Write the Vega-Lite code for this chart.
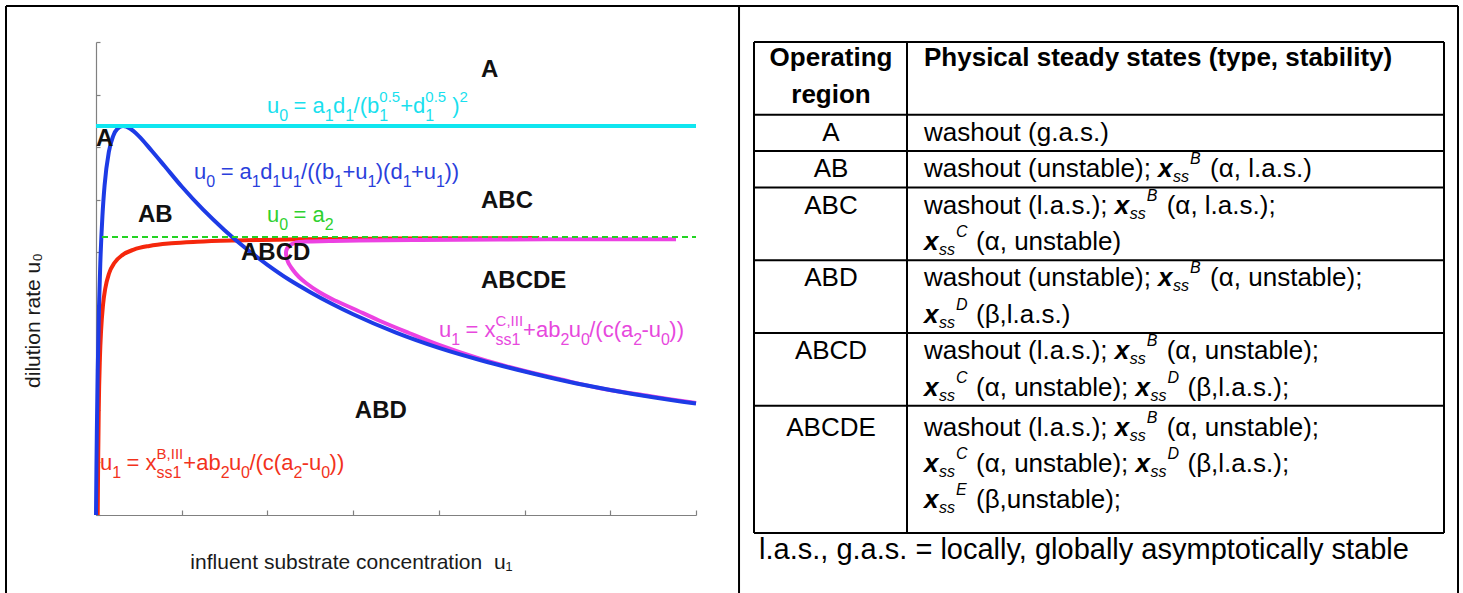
{
  "$schema": "https://vega.github.io/schema/vega-lite/v6.json",
  "background": "white",
  "padding": {"left": 5, "top": 4, "right": 0, "bottom": 0},
  "bounds": "flush",
  "spacing": 58,
  "config": {"view": {"stroke": null}, "font": "Liberation Sans"},
  "resolve": {"scale": {"x": "independent", "y": "independent"}},
  "datasets": {
    "curves": [
      {"s": "peak", "i": 0, "x": 0.0, "y": 7.4}, {"s": "peak", "i": 1, "x": 7.0, "y": 7.4},
      {"s": "a2", "i": 0, "x": 0.07, "y": 5.29}, {"s": "a2", "i": 1, "x": 7.0, "y": 5.29},
      {"s": "B", "i": 0, "x": 0, "y": 0}, {"s": "B", "i": 1, "x": 0.005, "y": 0.87}, {"s": "B", "i": 2, "x": 0.01, "y": 1.6},
      {"s": "B", "i": 3, "x": 0.02, "y": 2.74}, {"s": "B", "i": 4, "x": 0.035, "y": 3.95}, {"s": "B", "i": 5, "x": 0.05, "y": 4.78},
      {"s": "B", "i": 6, "x": 0.075, "y": 5.69}, {"s": "B", "i": 7, "x": 0.1, "y": 6.27}, {"s": "B", "i": 8, "x": 0.15, "y": 6.91},
      {"s": "B", "i": 9, "x": 0.2, "y": 7.21}, {"s": "B", "i": 10, "x": 0.25, "y": 7.35}, {"s": "B", "i": 11, "x": 0.315, "y": 7.4},
      {"s": "B", "i": 12, "x": 0.4, "y": 7.35}, {"s": "B", "i": 13, "x": 0.5, "y": 7.21}, {"s": "B", "i": 14, "x": 0.65, "y": 6.93},
      {"s": "B", "i": 15, "x": 0.8, "y": 6.64}, {"s": "B", "i": 16, "x": 1.0, "y": 6.25}, {"s": "B", "i": 17, "x": 1.25, "y": 5.81},
      {"s": "B", "i": 18, "x": 1.5, "y": 5.42}, {"s": "B", "i": 19, "x": 1.75, "y": 5.07}, {"s": "B", "i": 20, "x": 2.0, "y": 4.76},
      {"s": "B", "i": 21, "x": 2.25, "y": 4.48}, {"s": "B", "i": 22, "x": 2.5, "y": 4.24}, {"s": "B", "i": 23, "x": 2.75, "y": 4.02},
      {"s": "B", "i": 24, "x": 3.0, "y": 3.82}, {"s": "B", "i": 25, "x": 3.5, "y": 3.47}, {"s": "B", "i": 26, "x": 4.0, "y": 3.18},
      {"s": "B", "i": 27, "x": 4.5, "y": 2.94}, {"s": "B", "i": 28, "x": 5.0, "y": 2.73}, {"s": "B", "i": 29, "x": 5.5, "y": 2.54},
      {"s": "B", "i": 30, "x": 6.0, "y": 2.38}, {"s": "B", "i": 31, "x": 6.5, "y": 2.24}, {"s": "B", "i": 32, "x": 7.0, "y": 2.12},
      {"s": "xB", "i": 0, "x": 0.02, "y": 0}, {"s": "xB", "i": 1, "x": 0.025, "y": 1.0}, {"s": "xB", "i": 2, "x": 0.032, "y": 2.0},
      {"s": "xB", "i": 3, "x": 0.046, "y": 3.0}, {"s": "xB", "i": 4, "x": 0.059, "y": 3.5}, {"s": "xB", "i": 5, "x": 0.082, "y": 4.0},
      {"s": "xB", "i": 6, "x": 0.107, "y": 4.3}, {"s": "xB", "i": 7, "x": 0.153, "y": 4.6}, {"s": "xB", "i": 8, "x": 0.216, "y": 4.8},
      {"s": "xB", "i": 9, "x": 0.311, "y": 4.95}, {"s": "xB", "i": 10, "x": 0.441, "y": 5.05}, {"s": "xB", "i": 11, "x": 0.622, "y": 5.12},
      {"s": "xB", "i": 12, "x": 0.88, "y": 5.17}, {"s": "xB", "i": 13, "x": 1.18, "y": 5.2}, {"s": "xB", "i": 14, "x": 1.63, "y": 5.225},
      {"s": "xB", "i": 15, "x": 2.35, "y": 5.245}, {"s": "xB", "i": 16, "x": 3.53, "y": 5.26}, {"s": "xB", "i": 17, "x": 5.17, "y": 5.27},
      {"s": "xC", "i": 0, "x": 6.767, "y": 5.246}, {"s": "xC", "i": 1, "x": 5.868, "y": 5.248}, {"s": "xC", "i": 2, "x": 4.702, "y": 5.242},
      {"s": "xC", "i": 3, "x": 3.768, "y": 5.232}, {"s": "xC", "i": 4, "x": 3.068, "y": 5.223}, {"s": "xC", "i": 5, "x": 2.718, "y": 5.213},
      {"s": "xC", "i": 6, "x": 2.45, "y": 5.204}, {"s": "xC", "i": 7, "x": 2.333, "y": 5.185}, {"s": "xC", "i": 8, "x": 2.252, "y": 5.118},
      {"s": "xC", "i": 9, "x": 2.222, "y": 5.042}, {"s": "xC", "i": 10, "x": 2.217, "y": 4.966}, {"s": "xC", "i": 11, "x": 2.24, "y": 4.814},
      {"s": "xC", "i": 12, "x": 2.298, "y": 4.662}, {"s": "xC", "i": 13, "x": 2.368, "y": 4.528}, {"s": "xC", "i": 14, "x": 2.45, "y": 4.414},
      {"s": "xC", "i": 15, "x": 2.602, "y": 4.243}, {"s": "xC", "i": 16, "x": 2.753, "y": 4.11}, {"s": "xC", "i": 17, "x": 3.01, "y": 3.92},
      {"s": "xC", "i": 18, "x": 3.302, "y": 3.701}, {"s": "xC", "i": 19, "x": 3.652, "y": 3.463}, {"s": "xC", "i": 20, "x": 4.002, "y": 3.235},
      {"s": "xC", "i": 21, "x": 4.468, "y": 2.978}, {"s": "xC", "i": 22, "x": 4.935, "y": 2.768}, {"s": "xC", "i": 23, "x": 5.402, "y": 2.588},
      {"s": "xC", "i": 24, "x": 5.868, "y": 2.416}, {"s": "xC", "i": 25, "x": 6.452, "y": 2.264}, {"s": "xC", "i": 26, "x": 7.0, "y": 2.131}
    ],
    "regions": [
      {"t": "A", "x": 4.492, "y": 8.334}, {"t": "A", "x": 0.0, "y": 7.021}, {"t": "AB", "x": 0.49, "y": 5.575},
      {"t": "ABC", "x": 4.492, "y": 5.841}, {"t": "ABCD", "x": 1.692, "y": 4.852}, {"t": "ABCDE", "x": 4.492, "y": 4.319},
      {"t": "ABD", "x": 3.02, "y": 1.846}
    ],
    "eq": [
      {"s": "peak", "k": "m", "t": "u", "x": 1.995, "y": 7.649}, {"s": "peak", "k": "s", "t": "0", "x": 2.137, "y": 7.649},
      {"s": "peak", "k": "m", "t": "= a", "x": 2.305, "y": 7.649}, {"s": "peak", "k": "s", "t": "1", "x": 2.669, "y": 7.649},
      {"s": "peak", "k": "m", "t": "d", "x": 2.766, "y": 7.649}, {"s": "peak", "k": "s", "t": "1", "x": 2.909, "y": 7.649},
      {"s": "peak", "k": "m", "t": "/(b", "x": 3.005, "y": 7.649}, {"s": "peak", "k": "p", "t": "0.5", "x": 3.305, "y": 7.649},
      {"s": "peak", "k": "s", "t": "1", "x": 3.305, "y": 7.649}, {"s": "peak", "k": "m", "t": "+d", "x": 3.549, "y": 7.649},
      {"s": "peak", "k": "p", "t": "0.5", "x": 3.842, "y": 7.649}, {"s": "peak", "k": "s", "t": "1", "x": 3.842, "y": 7.649},
      {"s": "peak", "k": "m", "t": ")", "x": 4.157, "y": 7.649}, {"s": "peak", "k": "p", "t": "2", "x": 4.242, "y": 7.649},
      {"s": "B", "k": "m", "t": "u", "x": 1.143, "y": 6.393}, {"s": "B", "k": "s", "t": "0", "x": 1.286, "y": 6.393},
      {"s": "B", "k": "m", "t": "= a", "x": 1.454, "y": 6.393}, {"s": "B", "k": "s", "t": "1", "x": 1.818, "y": 6.393},
      {"s": "B", "k": "m", "t": "d", "x": 1.915, "y": 6.393}, {"s": "B", "k": "s", "t": "1", "x": 2.057, "y": 6.393},
      {"s": "B", "k": "m", "t": "u", "x": 2.154, "y": 6.393}, {"s": "B", "k": "s", "t": "1", "x": 2.296, "y": 6.393},
      {"s": "B", "k": "m", "t": "/((b", "x": 2.393, "y": 6.393}, {"s": "B", "k": "s", "t": "1", "x": 2.778, "y": 6.393},
      {"s": "B", "k": "m", "t": "+u", "x": 2.875, "y": 6.393}, {"s": "B", "k": "s", "t": "1", "x": 3.168, "y": 6.393},
      {"s": "B", "k": "m", "t": ")(d", "x": 3.264, "y": 6.393}, {"s": "B", "k": "s", "t": "1", "x": 3.578, "y": 6.393},
      {"s": "B", "k": "m", "t": "+u", "x": 3.675, "y": 6.393}, {"s": "B", "k": "s", "t": "1", "x": 3.968, "y": 6.393},
      {"s": "B", "k": "m", "t": "))", "x": 4.065, "y": 6.393},
      {"s": "a2", "k": "m", "t": "u", "x": 1.995, "y": 5.566}, {"s": "a2", "k": "s", "t": "0", "x": 2.137, "y": 5.566},
      {"s": "a2", "k": "m", "t": "= a", "x": 2.305, "y": 5.566}, {"s": "a2", "k": "s", "t": "2", "x": 2.669, "y": 5.566},
      {"s": "xB", "k": "m", "t": "u", "x": 0.047, "y": 0.856}, {"s": "xB", "k": "s", "t": "1", "x": 0.189, "y": 0.856},
      {"s": "xB", "k": "m", "t": "= x", "x": 0.356, "y": 0.856}, {"s": "xB", "k": "p", "t": "B,III", "x": 0.707, "y": 0.856},
      {"s": "xB", "k": "s", "t": "ss1", "x": 0.707, "y": 0.856}, {"s": "xB", "k": "m", "t": "+ab", "x": 1.019, "y": 0.856},
      {"s": "xB", "k": "s", "t": "2", "x": 1.454, "y": 0.856}, {"s": "xB", "k": "m", "t": "u", "x": 1.551, "y": 0.856},
      {"s": "xB", "k": "s", "t": "0", "x": 1.693, "y": 0.856}, {"s": "xB", "k": "m", "t": "/(c(a", "x": 1.79, "y": 0.856},
      {"s": "xB", "k": "s", "t": "2", "x": 2.303, "y": 0.856}, {"s": "xB", "k": "m", "t": "-u", "x": 2.4, "y": 0.856},
      {"s": "xB", "k": "s", "t": "0", "x": 2.629, "y": 0.856}, {"s": "xB", "k": "m", "t": "))", "x": 2.725, "y": 0.856},
      {"s": "xC", "k": "m", "t": "u", "x": 4.002, "y": 3.387}, {"s": "xC", "k": "s", "t": "1", "x": 4.144, "y": 3.387},
      {"s": "xC", "k": "m", "t": "= x", "x": 4.312, "y": 3.387}, {"s": "xC", "k": "p", "t": "C,III", "x": 4.662, "y": 3.387},
      {"s": "xC", "k": "s", "t": "ss1", "x": 4.662, "y": 3.387}, {"s": "xC", "k": "m", "t": "+ab", "x": 4.983, "y": 3.387},
      {"s": "xC", "k": "s", "t": "2", "x": 5.418, "y": 3.387}, {"s": "xC", "k": "m", "t": "u", "x": 5.515, "y": 3.387},
      {"s": "xC", "k": "s", "t": "0", "x": 5.657, "y": 3.387}, {"s": "xC", "k": "m", "t": "/(c(a", "x": 5.754, "y": 3.387},
      {"s": "xC", "k": "s", "t": "2", "x": 6.267, "y": 3.387}, {"s": "xC", "k": "m", "t": "-u", "x": 6.364, "y": 3.387},
      {"s": "xC", "k": "s", "t": "0", "x": 6.593, "y": 3.387}, {"s": "xC", "k": "m", "t": "))", "x": 6.689, "y": 3.387}
    ],
    "frameL": [
      {"x": -1.05, "x2": -1.05, "y": 9.685, "y2": -1.7},
      {"x": -1.05, "x2": 7.502, "y": 9.685, "y2": 9.685},
      {"x": 7.502, "x2": 7.502, "y": 9.685, "y2": -1.7}
    ],
    "tlines": [
      {"x": 0, "x2": 690, "y": 0, "y2": 0}, {"x": 0, "x2": 690, "y": 2, "y2": 2}, {"x": 0, "x2": 690, "y": 3, "y2": 3},
      {"x": 0, "x2": 690, "y": 4, "y2": 4}, {"x": 0, "x2": 690, "y": 6, "y2": 6}, {"x": 0, "x2": 690, "y": 8, "y2": 8},
      {"x": 0, "x2": 690, "y": 10, "y2": 10}, {"x": 0, "x2": 690, "y": 13.5, "y2": 13.5},
      {"x": 0, "x2": 0, "y": 0, "y2": 13.5}, {"x": 153, "x2": 153, "y": 0, "y2": 13.5}, {"x": 690, "x2": 690, "y": 0, "y2": 13.5},
      {"x": -15, "x2": 704, "y": -0.99, "y2": -0.99}, {"x": 704, "x2": 704, "y": -0.99, "y2": 15.4}
    ],
    "table": [
      {"r": "hc", "t": "Operating", "x": 77, "y": 0.44}, {"r": "hc", "t": "region", "x": 77, "y": 1.46},
      {"r": "hl", "t": "Physical steady states (type, stability)", "x": 170, "y": 0.44},
      {"r": "rg", "t": "A", "x": 77, "y": 2.5}, {"r": "rg", "t": "AB", "x": 77, "y": 3.5}, {"r": "rg", "t": "ABC", "x": 77, "y": 4.5},
      {"r": "rg", "t": "ABD", "x": 77, "y": 6.5}, {"r": "rg", "t": "ABCD", "x": 77, "y": 8.5}, {"r": "rg", "t": "ABCDE", "x": 77, "y": 10.6},
      {"r": "b", "t": "washout (g.a.s.)", "x": 170, "y": 2.5},
      {"r": "b", "t": "washout (unstable);", "x": 170, "y": 3.5}, {"r": "b", "t": "(α, l.a.s.)", "x": 456.1, "y": 3.5},
      {"r": "b", "t": "washout (l.a.s.);", "x": 170, "y": 4.5}, {"r": "b", "t": "(α, l.a.s.);", "x": 412.7, "y": 4.5},
      {"r": "b", "t": "(α, unstable)", "x": 222, "y": 5.5},
      {"r": "b", "t": "washout (unstable);", "x": 170, "y": 6.5}, {"r": "b", "t": "(α, unstable);", "x": 456.1, "y": 6.5},
      {"r": "b", "t": "(β,l.a.s.)", "x": 222, "y": 7.5},
      {"r": "b", "t": "washout (l.a.s.);", "x": 170, "y": 8.5}, {"r": "b", "t": "(α, unstable);", "x": 412.7, "y": 8.5},
      {"r": "b", "t": "(α, unstable);", "x": 222, "y": 9.5}, {"r": "b", "t": "(β,l.a.s.);", "x": 433.5, "y": 9.5},
      {"r": "b", "t": "washout (l.a.s.);", "x": 170, "y": 10.6}, {"r": "b", "t": "(α, unstable);", "x": 412.7, "y": 10.6},
      {"r": "b", "t": "(α, unstable);", "x": 222, "y": 11.6}, {"r": "b", "t": "(β,l.a.s.);", "x": 433.5, "y": 11.6},
      {"r": "b", "t": "(β,unstable);", "x": 222, "y": 12.6},
      {"r": "v", "t": "x", "x": 404.1, "y": 3.5}, {"r": "v", "t": "x", "x": 360.7, "y": 4.5}, {"r": "v", "t": "x", "x": 170, "y": 5.5},
      {"r": "v", "t": "x", "x": 404.1, "y": 6.5}, {"r": "v", "t": "x", "x": 170, "y": 7.5}, {"r": "v", "t": "x", "x": 360.7, "y": 8.5},
      {"r": "v", "t": "x", "x": 170, "y": 9.5}, {"r": "v", "t": "x", "x": 381.5, "y": 9.5}, {"r": "v", "t": "x", "x": 360.7, "y": 10.6},
      {"r": "v", "t": "x", "x": 170, "y": 11.6}, {"r": "v", "t": "x", "x": 381.5, "y": 11.6}, {"r": "v", "t": "x", "x": 170, "y": 12.6},
      {"r": "sb", "t": "ss", "x": 419.1, "y": 3.5}, {"r": "sb", "t": "ss", "x": 375.7, "y": 4.5}, {"r": "sb", "t": "ss", "x": 185, "y": 5.5},
      {"r": "sb", "t": "ss", "x": 419.1, "y": 6.5}, {"r": "sb", "t": "ss", "x": 185, "y": 7.5}, {"r": "sb", "t": "ss", "x": 375.7, "y": 8.5},
      {"r": "sb", "t": "ss", "x": 185, "y": 9.5}, {"r": "sb", "t": "ss", "x": 396.5, "y": 9.5}, {"r": "sb", "t": "ss", "x": 375.7, "y": 10.6},
      {"r": "sb", "t": "ss", "x": 185, "y": 11.6}, {"r": "sb", "t": "ss", "x": 396.5, "y": 11.6}, {"r": "sb", "t": "ss", "x": 185, "y": 12.6},
      {"r": "sp", "t": "B", "x": 436.1, "y": 3.5}, {"r": "sp", "t": "B", "x": 392.7, "y": 4.5}, {"r": "sp", "t": "C", "x": 202, "y": 5.5},
      {"r": "sp", "t": "B", "x": 436.1, "y": 6.5}, {"r": "sp", "t": "D", "x": 202, "y": 7.5}, {"r": "sp", "t": "B", "x": 392.7, "y": 8.5},
      {"r": "sp", "t": "C", "x": 202, "y": 9.5}, {"r": "sp", "t": "D", "x": 413.5, "y": 9.5}, {"r": "sp", "t": "B", "x": 392.7, "y": 10.6},
      {"r": "sp", "t": "C", "x": 202, "y": 11.6}, {"r": "sp", "t": "D", "x": 413.5, "y": 11.6}, {"r": "sp", "t": "E", "x": 202, "y": 12.6},
      {"r": "n", "t": "l.a.s., g.a.s. = locally, globally asymptotically stable", "x": 330, "y": 13.97}
    ]
  },
  "hconcat": [
    {
      "width": 600,
      "height": 473,
      "encoding": {
        "x": {
          "field": "x", "type": "quantitative",
          "scale": {"domain": [0, 7], "nice": false, "zero": false},
          "axis": {
            "values": [0, 1, 2, 3, 4, 5, 6, 7], "labels": false, "grid": false,
            "domainColor": "#808080", "domainWidth": 1.2, "tickColor": "#808080", "tickSize": -5, "tickWidth": 1.2,
            "title": "influent substrate concentration\u00a0\u00a0u₁",
            "titleFont": "Liberation Sans", "titleFontSize": 21, "titleFontWeight": "normal", "titleColor": "#1a1a1a",
            "titleX": 255, "titleY": 53, "titleAlign": "center", "titleBaseline": "alphabetic"
          }
        },
        "y": {
          "field": "y", "type": "quantitative",
          "scale": {"domain": [0, 9], "nice": false, "zero": false},
          "axis": {
            "values": [0, 1, 2, 3, 4, 5, 6, 7, 8, 9], "labels": false, "grid": false,
            "domainColor": "#808080", "domainWidth": 1.2, "tickColor": "#808080", "tickSize": -4, "tickWidth": 1.2,
            "title": "dilution rate u₀",
            "titleFont": "Liberation Sans", "titleFontSize": 21, "titleFontWeight": "normal", "titleColor": "#1a1a1a",
            "titleAngle": -90, "titleX": -63, "titleY": 278, "titleAlign": "center", "titleBaseline": "middle"
          }
        }
      },
      "layer": [
        {
          "data": {"name": "frameL"},
          "mark": {"type": "rule", "stroke": "#000000", "strokeWidth": 2},
          "encoding": {"x2": {"field": "x2"}, "y2": {"field": "y2"}}
        },
        {
          "data": {"name": "curves"},
          "transform": [{"filter": "datum.s == 'xB'"}],
          "mark": {"type": "line", "color": "#f5270c", "strokeWidth": 4, "interpolate": "monotone"}
        },
        {
          "data": {"name": "curves"},
          "transform": [{"filter": "datum.s == 'xC'"}],
          "mark": {"type": "line", "color": "#ec42e2", "strokeWidth": 4, "interpolate": "catmull-rom"},
          "encoding": {"order": {"field": "i", "type": "quantitative"}}
        },
        {
          "data": {"name": "curves"},
          "transform": [{"filter": "datum.s == 'B'"}],
          "mark": {"type": "line", "color": "#1d3be6", "strokeWidth": 4, "interpolate": "monotone"}
        },
        {
          "data": {"name": "curves"},
          "transform": [{"filter": "datum.s == 'peak'"}],
          "mark": {"type": "line", "color": "#10e6f0", "strokeWidth": 4}
        },
        {
          "data": {"name": "curves"},
          "transform": [{"filter": "datum.s == 'a2'"}],
          "mark": {"type": "line", "color": "#22d422", "strokeWidth": 2.2, "strokeDash": [6, 4]}
        },
        {
          "data": {"name": "regions"},
          "mark": {"type": "text", "align": "left", "baseline": "alphabetic", "fontSize": 24, "fontWeight": "bold", "color": "#111111"},
          "encoding": {"text": {"field": "t"}}
        },
        {
          "data": {"name": "eq"},
          "transform": [{"filter": "datum.k == 'm'"}],
          "mark": {"type": "text", "align": "left", "baseline": "alphabetic", "fontSize": 22},
          "encoding": {
            "text": {"field": "t"},
            "color": {"field": "s", "type": "nominal", "legend": null,
              "scale": {"domain": ["peak", "B", "a2", "xB", "xC"], "range": ["#19dfee", "#2a3fdc", "#2fd12f", "#f2321c", "#e748dd"]}}
          }
        },
        {
          "data": {"name": "eq"},
          "transform": [{"filter": "datum.k == 's'"}],
          "mark": {"type": "text", "align": "left", "baseline": "alphabetic", "fontSize": 16, "dy": 8},
          "encoding": {
            "text": {"field": "t"},
            "color": {"field": "s", "type": "nominal", "legend": null}
          }
        },
        {
          "data": {"name": "eq"},
          "transform": [{"filter": "datum.k == 'p'"}],
          "mark": {"type": "text", "align": "left", "baseline": "alphabetic", "fontSize": 15, "dy": -11},
          "encoding": {
            "text": {"field": "t"},
            "color": {"field": "s", "type": "nominal", "legend": null}
          }
        }
      ]
    },
    {
      "width": 690,
      "height": 491,
      "encoding": {
        "x": {"field": "x", "type": "quantitative", "scale": {"domain": [0, 690], "nice": false, "zero": false}, "axis": null},
        "y": {"field": "y", "type": "quantitative", "scale": {"domain": [0, 13.5], "nice": false, "zero": false, "reverse": true}, "axis": null}
      },
      "layer": [
        {
          "data": {"name": "tlines"},
          "mark": {"type": "rule", "stroke": "#000000", "strokeWidth": 2},
          "encoding": {"x2": {"field": "x2"}, "y2": {"field": "y2"}}
        },
        {
          "data": {"name": "table"},
          "transform": [{"filter": "datum.r == 'hc'"}],
          "mark": {"type": "text", "align": "center", "baseline": "middle", "fontSize": 26, "fontWeight": "bold", "color": "#000000"},
          "encoding": {"text": {"field": "t"}}
        },
        {
          "data": {"name": "table"},
          "transform": [{"filter": "datum.r == 'hl'"}],
          "mark": {"type": "text", "align": "left", "baseline": "middle", "fontSize": 26, "fontWeight": "bold", "color": "#000000"},
          "encoding": {"text": {"field": "t"}}
        },
        {
          "data": {"name": "table"},
          "transform": [{"filter": "datum.r == 'rg'"}],
          "mark": {"type": "text", "align": "center", "baseline": "middle", "fontSize": 26, "color": "#000000"},
          "encoding": {"text": {"field": "t"}}
        },
        {
          "data": {"name": "table"},
          "transform": [{"filter": "datum.r == 'n'"}],
          "mark": {"type": "text", "align": "center", "baseline": "middle", "fontSize": 29, "color": "#000000"},
          "encoding": {"text": {"field": "t"}}
        },
        {
          "data": {"name": "table"},
          "transform": [{"filter": "datum.r == 'b'"}],
          "mark": {"type": "text", "align": "left", "baseline": "middle", "fontSize": 26, "color": "#000000"},
          "encoding": {"text": {"field": "t"}}
        },
        {
          "data": {"name": "table"},
          "transform": [{"filter": "datum.r == 'v'"}],
          "mark": {"type": "text", "align": "left", "baseline": "middle", "fontSize": 26, "fontWeight": "bold", "fontStyle": "italic", "color": "#000000"},
          "encoding": {"text": {"field": "t"}}
        },
        {
          "data": {"name": "table"},
          "transform": [{"filter": "datum.r == 'sb'"}],
          "mark": {"type": "text", "align": "left", "baseline": "middle", "fontSize": 16, "fontStyle": "italic", "dy": 8, "color": "#000000"},
          "encoding": {"text": {"field": "t"}}
        },
        {
          "data": {"name": "table"},
          "transform": [{"filter": "datum.r == 'sp'"}],
          "mark": {"type": "text", "align": "left", "baseline": "middle", "fontSize": 16, "fontStyle": "italic", "dy": -10, "color": "#000000"},
          "encoding": {"text": {"field": "t"}}
        }
      ]
    }
  ]
}
